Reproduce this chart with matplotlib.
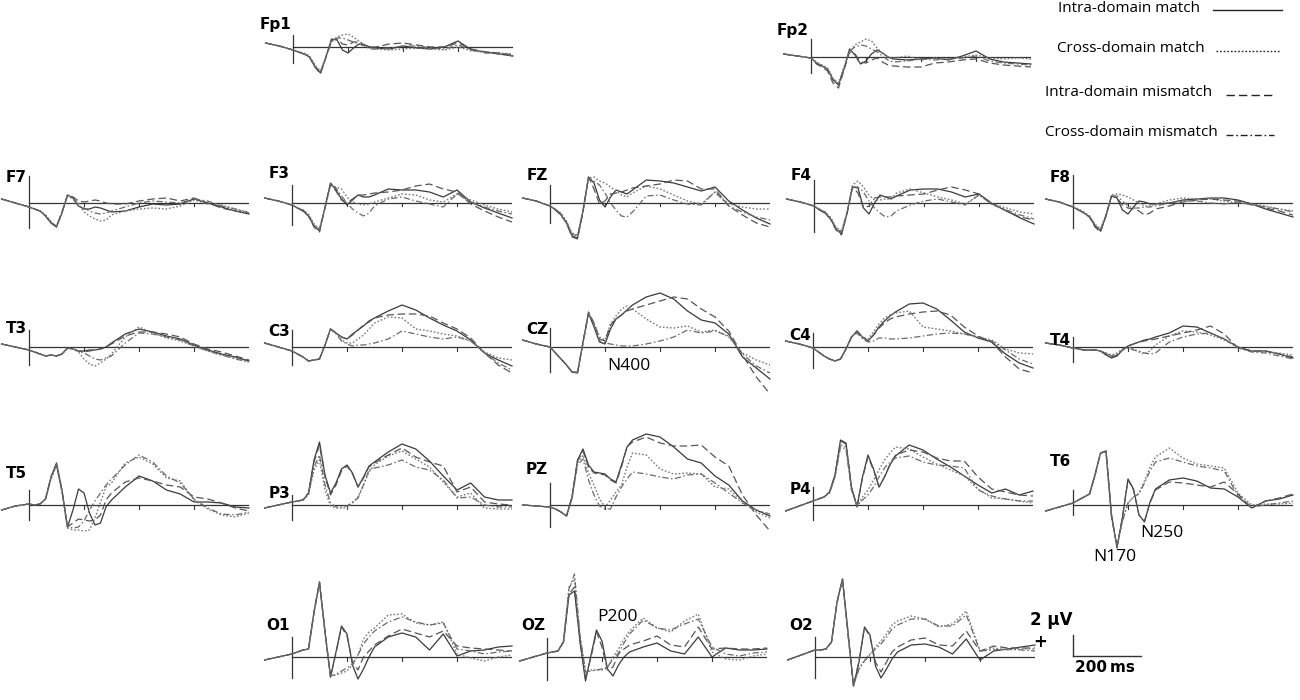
import matplotlib
matplotlib.use("Agg")
import matplotlib.pyplot as plt

# ── data: grand-average ERPs (µV) per electrode, rows = conditions ──
T_MS = [-100, -50, 0, 20, 40, 60, 80, 100, 120, 140, 160, 180, 200, 220, 240,
        260, 280, 300, 350, 400, 450, 500, 550, 600, 650, 700, 750, 800]

CONDITIONS = ["Intra-domain match", "Cross-domain match",
              "Intra-domain mismatch", "Cross-domain mismatch"]

FP1 = [[0.4, 0.1, -0.3, -0.5, -0.7, -1.0, -2.0, -2.6, -1.0, 0.8, 0.7, -0.3, -0.6, -0.1, 0.3, 0.2, 0.0, -0.1, -0.2, 0.1, -0.1, -0.2, 0.0, 0.6, -0.3, -0.5, -0.7, -0.9],
       [0.4, 0.1, -0.3, -0.5, -0.6, -0.9, -1.8, -2.4, -0.9, 0.6, 1.0, 1.2, 1.3, 1.0, 0.6, 0.2, -0.1, -0.2, -0.3, -0.2, -0.1, -0.2, -0.3, 0.0, -0.4, -0.5, -0.6, -0.7],
       [0.4, 0.1, -0.3, -0.5, -0.7, -1.0, -2.0, -2.7, -1.0, 0.7, 0.8, 0.3, 0.2, 0.5, 0.5, 0.2, 0.0, 0.0, 0.3, 0.4, 0.2, 0.0, 0.0, 0.4, -0.2, -0.5, -0.6, -0.8],
       [0.4, 0.1, -0.3, -0.5, -0.7, -0.9, -1.9, -2.5, -1.0, 0.5, 0.9, 0.9, 0.7, 0.5, 0.3, 0.1, -0.2, -0.2, -0.1, 0.1, 0.1, -0.1, -0.2, 0.2, -0.3, -0.6, -0.7, -0.9]]
FP2 = [[0.3, 0.1, -0.1, -0.6, -0.9, -1.2, -2.3, -2.8, -1.2, 0.8, 0.2, -0.7, -0.4, 0.3, 0.7, 0.4, 0.0, -0.2, -0.3, -0.2, -0.1, -0.3, 0.1, 0.6, -0.2, -0.5, -0.6, -0.7],
       [0.3, 0.1, -0.1, -0.5, -0.8, -1.1, -2.1, -2.6, -1.0, 0.6, 1.2, 1.5, 1.8, 1.6, 0.9, 0.4, 0.0, -0.1, 0.1, -0.3, -0.1, -0.2, 0.0, 0.2, -0.1, -0.2, -0.1, -0.2],
       [0.3, 0.1, -0.1, -0.7, -1.0, -1.4, -2.6, -3.1, -1.3, 0.5, 0.3, -0.5, -0.6, -0.3, -0.1, -0.5, -0.8, -0.9, -1.0, -1.0, -0.6, -0.5, -0.3, -0.2, -0.6, -0.8, -0.9, -1.0],
       [0.3, 0.1, -0.1, -0.6, -0.9, -1.2, -2.2, -2.7, -1.1, 0.6, 1.0, 1.2, 1.1, 0.8, 0.5, 0.1, -0.3, -0.5, -0.4, -0.2, -0.3, -0.2, -0.1, 0.1, -0.4, -0.6, -0.7, -0.8]]
F7 = [[0.4, 0.0, -0.4, -0.6, -0.8, -1.3, -2.0, -2.4, -1.0, 0.8, 0.5, -0.3, -0.6, -0.6, -0.4, -0.5, -0.7, -0.9, -0.8, -0.4, -0.1, -0.2, -0.1, 0.4, 0.0, -0.4, -0.8, -1.1],
      [0.4, 0.0, -0.4, -0.6, -0.8, -1.2, -1.9, -2.3, -0.9, 0.7, 0.6, 0.0, -0.9, -1.3, -1.6, -1.8, -1.7, -1.2, -0.8, -0.6, -0.5, -0.6, -0.3, 0.3, -0.1, -0.2, -0.6, -0.9],
      [0.4, 0.0, -0.4, -0.6, -0.8, -1.3, -2.0, -2.4, -0.9, 0.8, 0.6, 0.2, 0.1, 0.2, 0.3, 0.2, 0.0, -0.1, -0.1, 0.2, 0.4, 0.5, 0.2, 0.5, 0.0, -0.5, -0.8, -1.0],
      [0.4, 0.0, -0.4, -0.6, -0.8, -1.2, -1.9, -2.3, -0.9, 0.7, 0.4, -0.3, -0.5, -0.8, -1.0, -1.1, -1.0, -0.8, -0.4, 0.0, 0.2, 0.1, 0.0, 0.4, 0.2, -0.3, -0.6, -1.0]]
F3 = [[0.5, 0.2, -0.2, -0.5, -0.8, -1.3, -2.3, -2.8, -0.4, 2.0, 1.3, 0.4, -0.2, 0.3, 0.8, 0.6, 0.6, 0.8, 1.4, 1.3, 1.3, 1.1, 0.6, 1.3, 0.1, -0.5, -1.0, -1.5],
      [0.5, 0.2, -0.2, -0.5, -0.7, -1.1, -2.1, -2.6, -0.5, 1.8, 1.6, 1.4, 0.6, 0.1, -0.1, -0.2, -0.1, 0.1, 0.5, 0.9, 0.8, 0.3, 0.1, 0.9, 0.3, -0.2, -0.6, -0.9],
      [0.5, 0.2, -0.2, -0.5, -0.8, -1.3, -2.4, -2.9, -0.5, 1.9, 1.2, 0.3, 0.0, 0.4, 0.8, 0.8, 0.9, 1.0, 1.1, 1.3, 1.7, 1.9, 1.4, 1.1, -0.1, -0.8, -1.4, -1.9],
      [0.5, 0.2, -0.2, -0.5, -0.7, -1.2, -2.2, -2.6, -0.5, 1.8, 1.5, 0.7, 0.0, -0.6, -1.0, -1.3, -1.0, -0.3, 0.4, 0.6, 0.2, -0.1, -0.4, 0.9, 0.1, -0.4, -0.8, -1.1]]
FZ = [[0.5, 0.2, -0.3, -0.7, -1.2, -2.0, -3.3, -3.5, -0.8, 2.6, 2.0, 0.3, -0.4, 0.6, 1.3, 1.1, 0.9, 1.3, 2.3, 2.2, 2.0, 1.6, 1.2, 1.6, 0.2, -0.7, -1.5, -2.1],
      [0.5, 0.2, -0.3, -0.6, -1.0, -1.8, -3.0, -3.2, -0.7, 2.5, 2.6, 2.2, 2.0, 1.6, 1.2, 0.8, 0.6, 1.0, 1.7, 1.4, 0.8, 0.2, -0.1, 1.1, -0.1, -0.4, -0.6, -0.6],
      [0.5, 0.2, -0.3, -0.7, -1.2, -2.0, -3.4, -3.6, -0.9, 2.6, 1.4, -0.1, 0.2, 0.9, 1.0, 1.1, 1.3, 1.5, 1.7, 1.9, 2.3, 2.2, 1.4, 1.4, -0.3, -1.2, -2.0, -2.4],
      [0.5, 0.2, -0.3, -0.6, -1.1, -1.9, -3.1, -3.3, -0.8, 2.5, 2.2, 1.8, 1.0, 0.0, -0.7, -1.3, -1.4, -0.9, 0.7, 0.8, 0.3, -0.1, -0.2, 1.1, -0.3, -0.9, -1.4, -1.7]]
F4 = [[0.4, 0.1, -0.3, -0.7, -1.0, -1.6, -2.6, -3.1, -1.0, 1.6, 1.5, -0.5, -1.1, 0.0, 0.8, 0.6, 0.4, 0.7, 1.3, 1.4, 1.4, 1.1, 0.6, 0.9, -0.1, -0.8, -1.5, -2.1],
      [0.4, 0.1, -0.3, -0.6, -0.9, -1.4, -2.4, -2.8, -1.0, 1.8, 2.2, 1.6, 0.8, 0.3, 0.3, 0.4, 0.4, 1.0, 1.4, 1.0, 0.6, 0.3, -0.1, 0.8, -0.1, -0.5, -0.9, -1.1],
      [0.4, 0.1, -0.3, -0.7, -1.0, -1.6, -2.7, -3.2, -1.1, 1.6, 1.0, -0.5, -0.3, 0.5, 0.6, 0.6, 0.6, 0.7, 0.8, 0.9, 1.3, 1.6, 1.3, 0.9, -0.1, -0.8, -1.4, -1.7],
      [0.4, 0.1, -0.3, -0.6, -0.9, -1.5, -2.5, -2.9, -1.0, 1.6, 1.6, 1.1, 0.2, -0.5, -1.0, -1.4, -1.3, -0.8, -0.2, 0.2, 0.4, 0.1, -0.2, 0.8, -0.2, -0.7, -1.2, -1.6]]
F8 = [[0.4, 0.1, -0.4, -0.7, -1.0, -1.4, -2.3, -2.8, -1.3, 0.7, 0.5, -0.7, -1.1, -0.4, 0.2, 0.1, -0.1, -0.1, 0.0, 0.3, 0.4, 0.5, 0.5, 0.3, -0.1, -0.6, -1.0, -1.4],
      [0.4, 0.1, -0.4, -0.6, -0.9, -1.3, -2.1, -2.6, -1.1, 0.8, 0.9, 0.8, 0.6, 0.3, 0.0, -0.3, -0.3, -0.1, 0.3, 0.5, 0.4, 0.4, 0.2, 0.0, -0.1, -0.3, -0.6, -0.8],
      [0.4, 0.1, -0.4, -0.7, -1.0, -1.4, -2.4, -2.9, -1.3, 0.7, 0.5, -0.2, -0.5, -0.6, -0.8, -1.2, -1.0, -0.6, -0.3, 0.1, 0.3, 0.4, 0.3, 0.2, -0.1, -0.5, -0.8, -1.2],
      [0.4, 0.1, -0.4, -0.7, -1.0, -1.3, -2.2, -2.7, -1.2, 0.7, 0.7, 0.2, -0.3, -0.5, -0.5, -0.4, -0.4, -0.3, 0.0, 0.2, 0.2, 0.0, -0.1, 0.1, -0.2, -0.4, -0.6, -0.9]]
T3 = [[0.3, 0.0, -0.3, -0.5, -0.7, -0.9, -0.8, -0.9, -0.7, -0.1, -0.2, -0.4, -0.4, -0.3, -0.3, -0.2, 0.0, 0.4, 1.3, 1.8, 1.5, 1.1, 0.8, 0.2, -0.3, -0.7, -1.0, -1.4],
      [0.3, 0.0, -0.3, -0.5, -0.7, -0.9, -0.8, -0.9, -0.7, -0.1, -0.2, -0.5, -1.2, -1.7, -1.9, -1.6, -1.2, -0.7, 1.0, 2.0, 1.4, 0.9, 0.6, 0.1, -0.4, -0.8, -1.1, -1.5],
      [0.3, 0.0, -0.3, -0.5, -0.7, -0.9, -0.8, -0.9, -0.7, -0.1, -0.2, -0.4, -0.5, -0.4, -0.3, -0.2, 0.0, 0.3, 1.1, 1.5, 1.5, 1.3, 1.0, 0.3, -0.2, -0.5, -0.9, -1.3],
      [0.3, 0.0, -0.3, -0.5, -0.7, -0.9, -0.8, -0.9, -0.7, -0.1, -0.2, -0.4, -0.6, -0.9, -1.2, -1.3, -1.1, -0.9, 0.4, 1.4, 1.3, 1.0, 0.7, 0.1, -0.4, -0.8, -1.2, -1.5]]
C3 = [[0.4, 0.0, -0.4, -0.7, -1.0, -1.4, -1.3, -1.2, 0.2, 1.8, 1.4, 1.0, 0.8, 1.3, 1.7, 2.1, 2.6, 2.9, 3.6, 4.2, 3.7, 2.9, 2.2, 1.6, 0.7, -0.6, -1.3, -1.9],
      [0.4, 0.0, -0.4, -0.7, -1.0, -1.4, -1.3, -1.2, 0.2, 1.8, 1.4, 0.7, 0.4, 0.4, 0.8, 1.2, 1.8, 2.4, 3.0, 2.9, 1.8, 1.6, 1.3, 1.1, 0.6, -0.5, -1.1, -1.3],
      [0.4, 0.0, -0.4, -0.7, -1.0, -1.4, -1.3, -1.2, 0.2, 1.8, 1.4, 1.0, 0.8, 1.2, 1.7, 2.2, 2.5, 2.9, 3.2, 3.3, 3.3, 3.1, 2.4, 1.8, 0.9, -0.6, -1.8, -2.6],
      [0.4, 0.0, -0.4, -0.7, -1.0, -1.4, -1.3, -1.2, 0.2, 1.8, 1.3, 0.6, 0.3, 0.1, 0.2, 0.2, 0.3, 0.4, 0.8, 1.6, 1.3, 1.0, 0.8, 1.0, 0.6, -0.6, -1.6, -2.3]]
CZ = [[0.7, 0.3, 0.0, -0.6, -1.2, -1.8, -2.5, -2.6, 0.5, 3.4, 2.0, 0.5, 0.3, 1.8, 2.8, 3.2, 3.7, 4.2, 5.0, 5.4, 4.8, 3.6, 2.7, 2.4, 1.3, -1.0, -2.1, -3.2],
      [0.7, 0.3, 0.0, -0.6, -1.2, -1.8, -2.5, -2.5, 0.4, 3.3, 2.4, 1.0, 0.7, 2.3, 3.1, 3.8, 4.1, 3.8, 2.8, 2.0, 1.9, 2.1, 1.5, 1.7, 1.0, -0.6, -1.3, -1.8],
      [0.7, 0.3, 0.0, -0.6, -1.2, -1.8, -2.5, -2.6, 0.4, 3.5, 2.4, 0.8, 0.6, 2.2, 2.8, 3.2, 3.6, 3.8, 4.2, 4.6, 5.0, 4.8, 3.8, 3.0, 1.6, -0.8, -3.0, -4.7],
      [0.7, 0.3, 0.0, -0.6, -1.2, -1.8, -2.5, -2.5, 0.4, 3.4, 2.2, 0.6, 0.4, 0.3, 0.2, 0.1, 0.1, 0.1, 0.3, 0.6, 1.0, 1.7, 1.4, 1.6, 1.1, -0.7, -1.9, -2.6]]
C4 = [[0.6, 0.3, -0.1, -0.5, -0.9, -1.2, -1.4, -1.2, -0.2, 1.0, 1.6, 1.0, 0.6, 1.2, 2.0, 2.6, 3.1, 3.5, 4.3, 4.4, 3.8, 2.7, 1.5, 0.9, 0.5, -0.7, -1.6, -2.1],
      [0.6, 0.3, -0.1, -0.5, -0.9, -1.2, -1.4, -1.2, -0.2, 1.0, 1.5, 1.0, 0.8, 1.5, 2.3, 2.9, 3.2, 3.4, 3.6, 2.0, 1.8, 1.6, 1.3, 1.0, 0.7, -0.2, -0.6, -0.7],
      [0.6, 0.3, -0.1, -0.5, -0.9, -1.2, -1.4, -1.2, -0.2, 1.0, 1.6, 1.0, 0.6, 1.2, 1.9, 2.4, 2.8, 3.0, 3.3, 3.5, 3.6, 3.2, 2.0, 1.1, 0.5, -1.0, -2.2, -2.6],
      [0.6, 0.3, -0.1, -0.5, -0.9, -1.2, -1.4, -1.2, -0.2, 1.0, 1.4, 0.8, 0.5, 0.6, 0.9, 0.9, 0.8, 0.8, 0.9, 1.1, 1.3, 1.4, 1.3, 1.0, 0.6, -0.3, -1.2, -1.7]]
T4 = [[0.4, 0.2, -0.1, -0.2, -0.3, -0.3, -0.3, -0.4, -0.8, -1.1, -0.9, -0.3, 0.1, 0.3, 0.5, 0.7, 0.8, 1.0, 1.4, 2.1, 2.0, 1.4, 0.8, 0.0, -0.4, -0.4, -0.7, -1.1],
      [0.4, 0.2, -0.1, -0.2, -0.3, -0.3, -0.3, -0.4, -0.6, -0.8, -0.6, -0.2, 0.0, -0.2, -0.5, -0.7, -0.4, 0.2, 1.1, 1.6, 1.5, 1.2, 0.7, 0.0, -0.4, -0.5, -0.6, -0.8],
      [0.4, 0.2, -0.1, -0.2, -0.3, -0.3, -0.3, -0.4, -0.7, -1.0, -0.8, -0.3, 0.1, 0.3, 0.5, 0.6, 0.7, 0.8, 1.1, 1.4, 1.7, 2.1, 1.3, -0.1, -0.4, -0.4, -0.7, -1.0],
      [0.4, 0.2, -0.1, -0.2, -0.3, -0.3, -0.3, -0.4, -0.6, -0.9, -0.7, -0.3, -0.1, -0.3, -0.4, -0.6, -0.7, -0.6, 0.5, 1.0, 1.3, 1.4, 0.8, -0.1, -0.5, -0.6, -0.9, -1.2]]
T5 = [[-0.5, -0.1, 0.1, 0.0, 0.1, 0.6, 2.8, 4.2, 1.5, -2.2, -0.5, 1.6, 1.2, -0.8, -2.0, -1.8, -0.2, 0.5, 1.8, 2.9, 2.4, 1.5, 1.1, 0.3, 0.3, 0.2, -0.2, -0.3],
      [-0.5, -0.1, 0.1, 0.0, 0.1, 0.6, 2.6, 3.9, 1.3, -2.3, -2.5, -2.5, -2.6, -2.5, -1.3, 0.3, 1.8, 2.2, 4.2, 4.8, 4.1, 2.7, 2.4, 0.5, -0.4, -1.0, -1.2, -0.8],
      [-0.5, -0.1, 0.1, 0.0, 0.1, 0.6, 2.8, 4.1, 1.4, -2.2, -1.8, -1.4, -1.5, -1.6, -1.5, -1.0, 0.5, 1.2, 2.3, 2.7, 2.4, 2.0, 1.8, 0.8, 0.6, 0.2, -0.3, -0.6],
      [-0.5, -0.1, 0.1, 0.0, 0.1, 0.6, 2.7, 4.0, 1.3, -2.2, -2.3, -2.2, -1.6, -0.5, 0.4, 1.2, 2.0, 2.6, 4.0, 5.0, 4.3, 2.9, 2.2, 0.6, -0.3, -0.9, -1.0, -0.7]]
P3 = [[-0.3, 0.0, 0.3, 0.4, 0.5, 1.2, 4.5, 6.3, 3.0, 1.2, 2.2, 3.6, 4.0, 3.2, 1.8, 2.8, 3.9, 4.3, 5.3, 6.1, 5.6, 4.4, 2.9, 1.5, 2.2, 0.8, 0.5, 0.5],
      [-0.3, 0.0, 0.3, 0.4, 0.5, 1.0, 3.5, 4.5, 1.5, -0.1, -0.3, -0.3, -0.3, 0.2, 0.8, 2.0, 3.3, 4.0, 4.9, 5.4, 4.6, 3.8, 2.3, 0.8, 1.2, -0.3, -0.4, -0.4],
      [-0.3, 0.0, 0.3, 0.4, 0.5, 1.2, 4.3, 6.0, 2.8, 1.0, 2.0, 3.4, 3.9, 3.1, 1.8, 2.7, 3.8, 4.2, 5.0, 5.7, 4.8, 4.3, 3.9, 1.3, 1.8, 0.3, 0.1, 0.0],
      [-0.3, 0.0, 0.3, 0.4, 0.5, 1.1, 3.8, 5.0, 2.0, 0.2, -0.2, -0.2, -0.1, 0.3, 0.7, 2.0, 3.5, 3.7, 4.0, 4.5, 3.8, 3.5, 2.5, 0.7, 0.8, 0.0, -0.2, -0.2]]
PZ = [[0.0, -0.1, -0.2, -0.4, -0.7, -1.1, 0.8, 4.5, 5.6, 4.0, 3.3, 3.2, 3.1, 2.6, 2.3, 4.0, 5.8, 6.5, 7.1, 6.8, 5.8, 4.6, 4.2, 2.9, 2.0, 0.4, -0.5, -1.1],
      [0.0, -0.1, -0.2, -0.4, -0.7, -1.1, 0.7, 4.2, 5.0, 3.2, 2.0, 0.6, -0.2, 0.5, 1.3, 2.0, 3.8, 5.2, 5.0, 3.6, 3.1, 3.2, 3.1, 1.8, 1.6, 0.3, -0.7, -1.3],
      [0.0, -0.1, -0.2, -0.4, -0.7, -1.1, 0.8, 4.4, 5.4, 3.8, 3.2, 3.1, 3.0, 2.5, 2.2, 3.8, 5.8, 6.3, 6.8, 6.2, 5.9, 5.9, 6.0, 4.8, 3.9, 1.0, -1.0, -2.6],
      [0.0, -0.1, -0.2, -0.4, -0.7, -1.1, 0.6, 4.0, 4.6, 2.5, 1.0, -0.1, -0.4, -0.4, 0.8, 1.8, 2.6, 3.3, 3.1, 2.8, 2.6, 3.0, 3.1, 2.2, 1.2, 0.2, -0.5, -0.9]]
P4 = [[-0.6, -0.1, 0.4, 0.6, 0.8, 1.3, 3.0, 6.5, 6.2, 1.8, -0.2, 2.8, 5.0, 3.6, 1.8, 2.8, 4.0, 4.9, 6.0, 5.5, 4.6, 3.8, 2.9, 2.0, 1.2, 1.6, 1.0, 1.4],
      [-0.6, -0.1, 0.4, 0.6, 0.8, 1.2, 2.8, 6.0, 5.8, 1.6, -0.1, 0.8, 1.5, 2.5, 3.5, 4.5, 5.2, 5.8, 5.6, 4.8, 4.1, 3.5, 2.9, 1.6, 0.7, 0.6, 0.4, 0.2],
      [-0.6, -0.1, 0.4, 0.6, 0.8, 1.3, 3.0, 6.4, 6.1, 1.7, -0.1, 2.7, 4.8, 3.5, 1.8, 2.8, 4.1, 5.0, 5.5, 5.3, 4.7, 4.4, 4.4, 2.8, 1.6, 1.3, 1.0, 0.9],
      [-0.6, -0.1, 0.4, 0.6, 0.8, 1.2, 2.8, 5.8, 5.6, 1.5, -0.1, 0.5, 1.0, 1.8, 2.8, 3.7, 4.3, 4.7, 4.9, 4.3, 4.0, 3.9, 3.7, 1.5, 0.9, 0.6, 0.4, 0.4]]
T6 = [[-0.6, -0.2, 0.2, 0.5, 0.8, 1.1, 3.0, 5.2, 5.4, -1.0, -4.3, -1.2, 2.6, 1.6, -1.0, -1.7, 0.3, 1.6, 2.5, 2.7, 2.4, 1.7, 1.6, 0.8, -0.3, 0.4, 0.6, 1.0],
      [-0.6, -0.2, 0.2, 0.5, 0.8, 1.1, 3.0, 5.2, 5.3, -1.2, -4.2, -1.6, 0.2, 0.8, 1.2, 2.4, 3.8, 4.8, 5.7, 4.7, 4.1, 3.9, 3.7, 1.2, 0.0, 0.1, 0.1, 0.2],
      [-0.6, -0.2, 0.2, 0.5, 0.8, 1.1, 3.0, 5.2, 5.4, -1.0, -4.2, -1.2, 2.5, 1.5, -1.0, -1.6, 0.2, 1.5, 2.3, 2.2, 2.0, 1.8, 2.3, 1.1, -0.3, 0.4, 0.7, 1.1],
      [-0.6, -0.2, 0.2, 0.5, 0.8, 1.1, 3.0, 5.2, 5.3, -1.2, -4.1, -1.6, 0.2, 0.8, 1.1, 2.2, 3.4, 4.3, 4.7, 4.3, 3.9, 3.7, 3.4, 0.9, -0.2, 0.0, 0.2, 0.4]]
O1 = [[-0.3, 0.0, 0.3, 0.5, 0.7, 0.8, 4.5, 7.5, 2.5, -2.0, 0.5, 3.1, 2.3, -0.8, -2.2, -1.2, 0.0, 1.0, 2.0, 2.4, 2.0, 0.7, 2.3, 0.1, 0.6, 0.7, 1.0, 1.1],
      [-0.3, 0.0, 0.3, 0.5, 0.7, 0.8, 4.4, 7.4, 2.4, -1.9, -1.8, -1.6, -1.4, -0.8, 0.2, 1.8, 2.5, 2.9, 4.2, 4.3, 3.4, 3.2, 3.5, 0.3, -0.1, -0.4, 0.0, 0.2],
      [-0.3, 0.0, 0.3, 0.5, 0.7, 0.8, 4.5, 7.5, 2.6, -2.0, 0.4, 3.0, 2.1, -0.5, -1.3, 0.0, 0.6, 1.2, 2.1, 2.8, 2.4, 2.0, 2.6, 1.1, 0.9, 0.8, 0.7, 0.6],
      [-0.3, 0.0, 0.3, 0.5, 0.7, 0.8, 4.4, 7.4, 2.5, -1.9, -1.7, -1.4, -1.1, -0.7, 0.2, 1.3, 2.0, 2.6, 3.5, 4.0, 3.5, 3.2, 3.4, 0.8, 0.6, 0.3, 0.5, 0.6]]
OZ = [[-0.4, 0.0, 0.4, 0.5, 0.6, 1.5, 6.2, 6.6, 1.5, -2.4, 0.2, 2.7, 1.6, -1.2, -1.9, -0.8, 0.0, 0.5, 1.0, 1.4, 0.6, 0.3, 2.0, 0.0, 0.9, 0.7, 0.7, 0.8],
      [-0.4, 0.0, 0.4, 0.5, 0.6, 1.6, 7.0, 7.8, 2.0, -1.4, -1.3, -1.3, -1.3, -1.1, 0.0, 0.8, 1.8, 2.6, 3.9, 2.9, 2.5, 3.6, 4.3, 0.5, -0.2, -0.3, 0.1, 0.3],
      [-0.4, 0.0, 0.4, 0.5, 0.6, 1.5, 6.3, 7.0, 1.7, -2.2, 0.0, 2.5, 1.0, -1.3, -1.0, 0.3, 0.8, 1.2, 1.6, 2.1, 1.2, 1.0, 3.0, 0.8, 0.9, 0.8, 0.8, 0.9],
      [-0.4, 0.0, 0.4, 0.5, 0.6, 1.6, 6.8, 8.3, 2.2, -1.5, -1.4, -1.3, -1.2, -1.0, -0.2, 0.4, 1.4, 2.3, 3.7, 2.9, 2.7, 3.3, 3.8, 1.0, 0.3, 0.1, 0.4, 0.5]]
O2 = [[-0.3, 0.2, 0.7, 0.7, 0.8, 1.5, 5.5, 7.8, 2.5, -2.9, -0.5, 3.0, 2.2, -0.9, -2.1, -1.2, -0.2, 0.5, 1.2, 1.3, 1.0, 0.3, 1.8, -0.3, 0.6, 0.8, 1.0, 1.2],
      [-0.3, 0.2, 0.7, 0.7, 0.8, 1.5, 5.4, 7.7, 2.2, -2.8, -1.2, -0.3, 0.3, 1.0, 1.6, 2.3, 3.2, 3.6, 4.1, 3.8, 3.0, 3.3, 4.6, 0.6, 0.9, 0.7, 0.8, 0.8],
      [-0.3, 0.2, 0.7, 0.7, 0.8, 1.5, 5.5, 7.8, 2.4, -2.9, -0.4, 3.0, 2.0, -0.5, -1.5, -0.5, 0.5, 1.0, 1.7, 1.9, 1.2, 1.1, 2.6, 0.6, 1.1, 0.9, 0.9, 0.9],
      [-0.3, 0.2, 0.7, 0.7, 0.8, 1.5, 5.4, 7.7, 2.2, -2.8, -1.2, -0.4, 0.2, 0.8, 1.3, 2.0, 2.8, 3.2, 3.8, 3.8, 3.1, 3.1, 4.2, 0.6, 0.7, 0.8, 0.7, 0.6]]

ELECTRODES = {"Fp1": FP1, "Fp2": FP2, "F7": F7, "F3": F3, "FZ": FZ, "F4": F4, "F8": F8,
              "T3": T3, "C3": C3, "CZ": CZ, "C4": C4, "T4": T4,
              "T5": T5, "P3": P3, "PZ": PZ, "P4": P4, "T6": T6,
              "O1": O1, "OZ": OZ, "O2": O2}

# ── layout (pixels in a 1300x700 canvas) ──
# name: (x of t=0 axis, y of baseline, y of label, top of y-axis, bottom of y-axis)
LAYOUT = {
    "Fp1": (293, 47, 25, 35, 63),   "Fp2": (811, 57, 30, 39, 73),
    "F7": (29, 203, 177, 176, 228), "F3": (292, 203, 173, 185, 225),
    "FZ": (550, 203, 175, 185, 223), "F4": (814, 203, 175, 180, 232),
    "F8": (1073, 203, 178, 175, 228),
    "T3": (29, 347, 328, 330, 365), "C3": (292, 347, 332, 330, 365),
    "CZ": (550, 347, 329, 328, 372), "C4": (813, 347, 336, 333, 368),
    "T4": (1073, 347, 340, 337, 362),
    "T5": (29, 505, 473, 490, 520), "P3": (292, 505, 493, 495, 520),
    "PZ": (550, 505, 470, 483, 527), "P4": (813, 505, 489, 487, 520),
    "T6": (1073, 505, 462, 490, 515),
    "O1": (292, 657, 626, 637, 678), "OZ": (547, 657, 626, 638, 680),
    "O2": (815, 657, 626, 637, 678),
}

W, H = 1300, 700
PX_PER_MS = 0.275
PX_PER_UV = 10.0
YLIM = (-6, 9)

STYLES = [
    dict(color="#3a3a3a", linestyle="-", linewidth=0.9),
    dict(color="#7a7a7a", linestyle=(0, (1.2, 1.4)), linewidth=1.0),
    dict(color="#555555", linestyle=(0, (6, 3)), linewidth=0.9),
    dict(color="#6a6a6a", linestyle=(0, (5, 2, 1.2, 2)), linewidth=0.9),
]

fig = plt.figure(figsize=(13, 7), dpi=100)


def px_axes(left, top, width, height):
    """axes from pixel box (top-left origin)"""
    return fig.add_axes([left / W, 1 - (top + height) / H, width / W, height / H])


def draw_panel(name, rows):
    ax0, base, lab_y, vtop, vbot = LAYOUT[name]
    t0, t1 = T_MS[0], T_MS[-1]
    width = (t1 - t0) * PX_PER_MS
    height = (YLIM[1] - YLIM[0]) * PX_PER_UV
    ax = px_axes(ax0 + t0 * PX_PER_MS, base - YLIM[1] * PX_PER_UV, width, height)
    ax.set_xlim(t0, t1)
    ax.set_ylim(*YLIM)
    ax.axis("off")

    # baseline, ticks and t=0 axis
    ax.plot([0, t1], [0, 0], color="#333333", lw=0.9)
    for tk in (200, 400, 600):
        ax.plot([tk, tk], [0, -0.35], color="#333333", lw=0.8)
    ax.plot([0, 0], [(base - vbot) / PX_PER_UV, (base - vtop) / PX_PER_UV],
            color="#333333", lw=0.9)

    for vals, st in zip(rows, STYLES):
        ax.plot(T_MS, vals, clip_on=False, **st)

    fig.text((ax0 - 2) / W, 1 - lab_y / H, name, ha="right", va="center",
             fontsize=11, fontweight="bold", family="DejaVu Sans")


for name, rows in ELECTRODES.items():
    draw_panel(name, rows)

# legend, upper right
leg = px_axes(1000, 0, 300, 150)
leg.set_xlim(1000, 1300)
leg.set_ylim(150, 0)
leg.axis("off")
legend_rows = [(1058, 8, 1213, 1282), (1057, 49, 1216, 1280),
               (1045, 93, 1226, 1274), (1045, 133, 1226, 1274)]
for label, st, (tx, ty, lx0, lx1) in zip(CONDITIONS, STYLES, legend_rows):
    leg.text(tx, ty, label, ha="left", va="center", fontsize=11, family="Open Sans")
    leg.plot([lx0, lx1], [ty + 2, ty + 2], color="#222222",
             linestyle=st["linestyle"], lw=1.0)

# component annotations
for txt, x, y in [("N400", 607, 366), ("N170", 1093, 557),
                  ("N250", 1140, 533), ("P200", 597, 617)]:
    fig.text(x / W, 1 - y / H, txt, ha="left", va="center",
             fontsize=12.5, family="Open Sans")

# scale bar: 2 µV / 200 ms
sb = px_axes(1073, 635, 68, 21)
sb.set_xlim(0, 200)
sb.set_ylim(0, 2)
sb.axis("off")
sb.plot([0, 0], [0, 2], color="#333333", lw=1.0, clip_on=False)
sb.plot([0, 200], [0, 0], color="#333333", lw=1.0, clip_on=False)
fig.text(1030 / W, 1 - 620 / H, "2 µV", ha="left", va="center",
         fontsize=12, fontweight="bold", family="DejaVu Sans")
fig.text(1040 / W, 1 - 642 / H, "+", ha="center", va="center",
         fontsize=12, fontweight="bold", family="DejaVu Sans")
fig.text(1075 / W, 1 - 668 / H, "200\u2009ms", ha="left", va="center",
         fontsize=11, fontweight="bold", family="DejaVu Sans")

fig.savefig("out.png", dpi=100)
